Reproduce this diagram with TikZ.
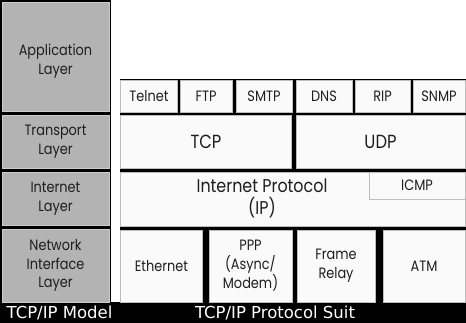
\documentclass[tikz,border=0pt]{standalone}
\usepackage{fontspec}
\newfontfamily\boxfont[FakeStretch=0.86]{Poppins}
\newfontfamily\capfont{DejaVu Sans}
\definecolor{lgray}{HTML}{B3B3B3}
\definecolor{lgrayline}{HTML}{CCCCCC}
\definecolor{rfill}{HTML}{FAFAFA}
\definecolor{rline}{HTML}{BDBDBD}
\definecolor{ink}{HTML}{1E1E1E}
\tikzset{
  lbox/.style={draw=lgrayline, fill=lgray, line width=0.6pt, anchor=north west, inner sep=0pt, outer sep=0pt, align=center, text=ink, font=\boxfont\fontsize{15}{18.5}\selectfont},
  rbox/.style={draw=rline, fill=rfill, line width=0.6pt, anchor=north west, inner sep=0pt, outer sep=0pt, align=center, text=ink, font=\boxfont\fontsize{15}{19}\selectfont},
  plaintxt/.style={align=center, text=ink, inner sep=0pt, font=\boxfont\fontsize{15}{18.5}\selectfont},
  bigtxt/.style={font=\boxfont\fontsize{19}{22}\selectfont},
  midtxt/.style={font=\boxfont\fontsize{18.5}{22}\selectfont},
  captxt/.style={text=white, inner sep=0pt, font=\capfont\fontsize{16.5}{18}\selectfont},
}
\begin{document}
\begin{tikzpicture}[x=1pt,y=-1pt]
\useasboundingbox (0,0) rectangle (466,323);
\fill[white] (0,0) rectangle (466,323);
% black backgrounds
\fill[black] (0,0) rectangle (111,303);
\fill[black] (120,79) rectangle (466,303);
\fill[black] (0,302) rectangle (466,323);
% left column
\node[lbox, minimum width=107pt, minimum height=109pt] (app) at (2,2) {};
\node[plaintxt] (apptext) at (55.5,61) {Application\\Layer};
\node[lbox, minimum width=107pt, minimum height=53pt] (trans) at (2,115) {Transport\\Layer};
\node[lbox, minimum width=107pt, minimum height=53pt] (inet) at (2,172) {Internet\\Layer};
\node[lbox, minimum width=107pt, minimum height=73pt] (netif) at (2,229) {Network\\Interface\\Layer};
% application protocols
\node[rbox, minimum width=57pt, minimum height=32pt] (telnet) at (120.5,80) {Telnet};
\node[rbox, minimum width=52pt, minimum height=32pt] (ftp) at (180,80) {FTP};
\node[rbox, minimum width=56pt, minimum height=32pt] (smtp) at (236,80) {SMTP};
\node[rbox, minimum width=56pt, minimum height=32pt] (dns) at (296,80) {DNS};
\node[rbox, minimum width=55pt, minimum height=32pt] (rip) at (355,80) {RIP};
\node[rbox, minimum width=52pt, minimum height=32pt] (snmp) at (413,80) {SNMP};
% transport
\node[rbox, bigtxt, minimum width=171pt, minimum height=53pt] (tcp) at (120.5,115) {TCP};
\node[rbox, bigtxt, minimum width=169pt, minimum height=53pt] (udp) at (296,115) {UDP};
% internet
\node[rbox, minimum width=345pt, minimum height=54pt] (ip) at (120.5,172) {};
\node[rbox, minimum width=96pt, minimum height=27pt] (icmp) at (369,172) {ICMP};
\node[plaintxt, midtxt] (iptext) at (262,198) {Internet Protocol\\(IP)};
% network interface
\node[rbox, minimum width=82pt, minimum height=72pt] (eth) at (120.5,230) {Ethernet};
\node[rbox, minimum width=83pt, minimum height=72pt] (ppp) at (209,230) {PPP\\(Async/\\Modem)};
\node[rbox, minimum width=78pt, minimum height=72pt] (fr) at (297,230) {Frame\\Relay};
\node[rbox, minimum width=82pt, minimum height=72pt] (atm) at (383,230) {ATM};
% captions
\node[captxt] (cmodel) at (59.5,313) {TCP/IP Model};
\node[captxt] (csuit) at (275,313) {TCP/IP Protocol Suit};
\end{tikzpicture}
\end{document}
